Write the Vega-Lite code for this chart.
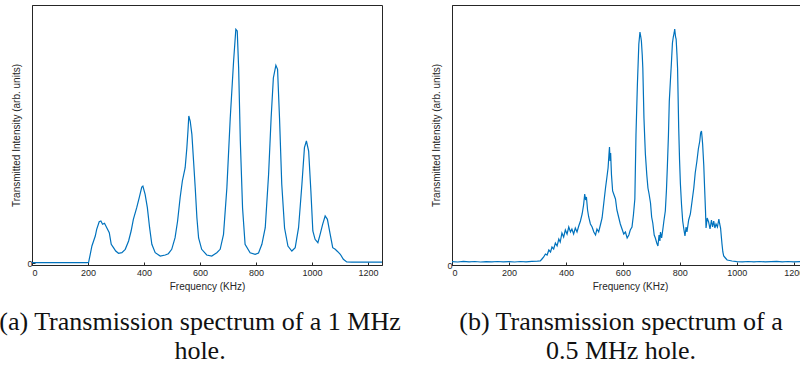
{
  "$schema": "https://vega.github.io/schema/vega-lite/v6.json",
  "background": "white",
  "padding": {"left": -2, "top": 4, "right": 0, "bottom": 0},
  "config": {
    "view": {"stroke": "#262626", "strokeWidth": 1},
    "axis": {"grid": false, "domainColor": "#262626", "tickColor": "#262626", "labelColor": "#262626", "titleColor": "#262626", "labelFont": "Liberation Sans", "titleFont": "Liberation Sans", "labelFontSize": 9, "titleFontSize": 10, "titleFontWeight": "normal", "tickSize": -3, "domainWidth": 1},
    "title": {"font": "Liberation Serif", "fontSize": 26, "fontWeight": "normal", "color": "#111111", "orient": "bottom", "anchor": "middle", "lineHeight": 29}
  },
  "spacing": 70,
  "bounds": "flush",
  "datasets": {
    "a": [
      {"f":0,"v":0.3},{"f":50,"v":0.3},{"f":100,"v":0.3},{"f":150,"v":0.3},{"f":195,"v":0.3},{"f":202,"v":0.5},
      {"f":208,"v":8.7},{"f":214,"v":17},{"f":220,"v":22},{"f":226,"v":27},{"f":231,"v":33.7},{"f":240,"v":41.3},{"f":246,"v":42},{"f":252,"v":38.7},{"f":259,"v":39.7},{"f":267,"v":35.3},{"f":276,"v":30.3},{"f":283,"v":18.7},{"f":291,"v":15.3},{"f":299,"v":12},{"f":309,"v":9.7},{"f":321,"v":10.3},{"f":333,"v":13.7},{"f":345,"v":22},{"f":354,"v":32},{"f":362,"v":43.7},{"f":374,"v":55.3},{"f":383,"v":65.3},{"f":392,"v":76},{"f":396,"v":77},{"f":404,"v":68.7},{"f":412,"v":55.3},{"f":420,"v":35.3},{"f":428,"v":18.7},{"f":440,"v":10.3},{"f":458,"v":7},{"f":476,"v":8},{"f":487,"v":9.3},{"f":499,"v":13.7},{"f":511,"v":25.3},{"f":520,"v":42},{"f":529,"v":65.3},{"f":537,"v":82},{"f":547,"v":95.3},{"f":553,"v":115},{"f":557,"v":132},{"f":560,"v":147},{"f":565,"v":142},{"f":571,"v":128.7},{"f":577,"v":102},{"f":583,"v":75},{"f":589,"v":45},{"f":595,"v":25},{"f":606,"v":13.7},{"f":624,"v":8},{"f":642,"v":7},{"f":660,"v":10.3},{"f":672,"v":13.7},{"f":684,"v":28.7},{"f":696,"v":75.3},{"f":708,"v":145},{"f":720,"v":202},{"f":728,"v":233.7},{"f":733,"v":232},{"f":738,"v":195},{"f":744,"v":122},{"f":752,"v":55},{"f":761,"v":18.7},{"f":779,"v":10.3},{"f":797,"v":8.7},{"f":809,"v":10},{"f":821,"v":18.7},{"f":833,"v":35.3},{"f":845,"v":88.7},{"f":854,"v":145},{"f":862,"v":185},{"f":871,"v":197.7},{"f":877,"v":193.7},{"f":884,"v":145},{"f":892,"v":78.7},{"f":902,"v":35},{"f":914,"v":17},{"f":928,"v":12},{"f":940,"v":15.3},{"f":952,"v":35.3},{"f":964,"v":78.7},{"f":973,"v":115.3},{"f":980,"v":122},{"f":988,"v":112},{"f":996,"v":72},{"f":1003,"v":32},{"f":1011,"v":23.7},{"f":1021,"v":20.3},{"f":1029,"v":28.7},{"f":1038,"v":38.7},{"f":1047,"v":47},{"f":1055,"v":43.7},{"f":1065,"v":28.7},{"f":1074,"v":15.3},{"f":1083,"v":13.7},{"f":1092,"v":11.3},{"f":1101,"v":8.7},{"f":1112,"v":3.7},{"f":1124,"v":1},{"f":1142,"v":0.8},{"f":1200,"v":0.8},{"f":1250,"v":0.8}
    ],
    "b": [
      {"f":0,"v":3.4},{"f":20,"v":3.0},{"f":40,"v":3.6},{"f":60,"v":3.2},{"f":80,"v":3.5},{"f":100,"v":3.0},{"f":120,"v":3.4},{"f":140,"v":3.1},{"f":160,"v":3.5},{"f":180,"v":3.2},{"f":200,"v":3.4},{"f":220,"v":3.0},{"f":240,"v":3.5},{"f":260,"v":3.2},{"f":280,"v":3.6},{"f":300,"v":3.8},
      {"f":310,"v":4},{"f":316,"v":6},{"f":322,"v":8},{"f":328,"v":11},{"f":334,"v":10},{"f":340,"v":15},{"f":346,"v":13},{"f":351,"v":18},{"f":357,"v":16},{"f":363,"v":22},{"f":369,"v":19},{"f":375,"v":26},{"f":380,"v":23},{"f":386,"v":32},{"f":392,"v":28},{"f":398,"v":35},{"f":404,"v":31},{"f":410,"v":38},{"f":416,"v":33},{"f":421,"v":36},{"f":427,"v":31},{"f":433,"v":37},{"f":439,"v":33},{"f":445,"v":39},{"f":451,"v":44},{"f":457,"v":51},{"f":462,"v":60},{"f":466,"v":71},{"f":469,"v":65},{"f":472,"v":68},{"f":476,"v":55},{"f":480,"v":48},{"f":486,"v":41},{"f":492,"v":38},{"f":498,"v":33},{"f":504,"v":30},{"f":509,"v":36},{"f":515,"v":33},{"f":521,"v":40},{"f":527,"v":47},{"f":533,"v":62},{"f":539,"v":77},{"f":544,"v":88},{"f":548,"v":97},{"f":551,"v":110},{"f":553,"v":118},{"f":555,"v":104},{"f":557,"v":112},{"f":560,"v":90},{"f":564,"v":74},{"f":569,"v":70},{"f":574,"v":66},{"f":579,"v":55},{"f":585,"v":48},{"f":591,"v":41},{"f":597,"v":36},{"f":603,"v":31},{"f":609,"v":33},{"f":615,"v":27},{"f":621,"v":30},{"f":626,"v":35},{"f":632,"v":38},{"f":637,"v":50},{"f":642,"v":66},{"f":646,"v":130},{"f":651,"v":181},{"f":656,"v":221},{"f":660,"v":233},{"f":663,"v":228},{"f":665,"v":224},{"f":668,"v":210},{"f":670,"v":197},{"f":674,"v":147},{"f":677,"v":125},{"f":679,"v":111},{"f":684,"v":90},{"f":688,"v":77},{"f":692,"v":71},{"f":697,"v":62},{"f":701,"v":48},{"f":705,"v":42},{"f":710,"v":30},{"f":714,"v":27},{"f":719,"v":22},{"f":723,"v":19},{"f":727,"v":30},{"f":730,"v":24},{"f":732,"v":33},{"f":736,"v":27},{"f":740,"v":35},{"f":744,"v":44},{"f":749,"v":54},{"f":753,"v":75},{"f":756,"v":97},{"f":760,"v":130},{"f":763,"v":164},{"f":767,"v":185},{"f":770,"v":200},{"f":774,"v":222},{"f":777,"v":228},{"f":780,"v":232},{"f":782,"v":236},{"f":785,"v":228},{"f":787,"v":226},{"f":790,"v":210},{"f":792,"v":197},{"f":796,"v":137},{"f":799,"v":105},{"f":802,"v":81},{"f":806,"v":60},{"f":810,"v":44},{"f":814,"v":36},{"f":818,"v":29},{"f":822,"v":38},{"f":825,"v":33},{"f":831,"v":45},{"f":837,"v":51},{"f":843,"v":64},{"f":849,"v":77},{"f":854,"v":92},{"f":860,"v":104},{"f":865,"v":116},{"f":870,"v":124},{"f":873,"v":132},{"f":876,"v":134},{"f":878,"v":128},{"f":880,"v":121},{"f":884,"v":100},{"f":887,"v":77},{"f":890,"v":55},{"f":892,"v":37},{"f":896,"v":47},{"f":901,"v":43},{"f":906,"v":36},{"f":911,"v":45},{"f":915,"v":38},{"f":919,"v":44},{"f":923,"v":37},{"f":927,"v":41},{"f":932,"v":38},{"f":937,"v":46},{"f":940,"v":41},{"f":943,"v":37},{"f":948,"v":21},{"f":951,"v":13},{"f":954,"v":9},{"f":960,"v":7},{"f":966,"v":5},{"f":975,"v":4.5},{"f":983,"v":4},
      {"f":1000,"v":3.4},{"f":1020,"v":3.1},{"f":1040,"v":3.5},{"f":1060,"v":3.2},{"f":1080,"v":3.5},{"f":1100,"v":3.1},{"f":1120,"v":3.4},{"f":1140,"v":3.6},{"f":1160,"v":3.2},{"f":1180,"v":3.5},{"f":1200,"v":3.1},{"f":1225,"v":3.4},{"f":1250,"v":3.3}
    ]
  },
  "hconcat": [
    {
      "width": 350, "height": 260,
      "data": {"name": "a"},
      "title": {"text": ["(a) Transmission spectrum of a 1 MHz", "hole."], "dx": -7, "offset": 18},
      "mark": {"type": "line", "color": "#0072BD", "strokeWidth": 1.2},
      "encoding": {
        "x": {"field": "f", "type": "quantitative", "scale": {"domain": [0, 1250], "nice": false}, "axis": {"title": "Frequency (KHz)", "format": "d", "values": [0, 200, 400, 600, 800, 1000, 1200], "labelPadding": 6, "titlePadding": 4}},
        "y": {"field": "v", "type": "quantitative", "scale": {"domain": [-2, 258], "nice": false, "zero": false}, "axis": {"title": "Transmitted Intensity (arb. units)", "values": [0], "labelPadding": 3, "titlePadding": 5}}
      }
    },
    {
      "width": 356, "height": 260,
      "data": {"name": "b"},
      "title": {"text": ["(b) Transmission spectrum of a", "0.5 MHz hole."], "dx": -9, "offset": 18},
      "mark": {"type": "line", "color": "#0072BD", "strokeWidth": 1.2},
      "encoding": {
        "x": {"field": "f", "type": "quantitative", "scale": {"domain": [0, 1250], "nice": false}, "axis": {"title": "Frequency (KHz)", "format": "d", "values": [0, 200, 400, 600, 800, 1000, 1200], "labelPadding": 6, "titlePadding": 4}},
        "y": {"field": "v", "type": "quantitative", "scale": {"domain": [0, 260], "nice": false, "zero": false}, "axis": {"title": "Transmitted Intensity (arb. units)", "values": [0], "labelPadding": 3, "titlePadding": 5}}
      }
    }
  ]
}
